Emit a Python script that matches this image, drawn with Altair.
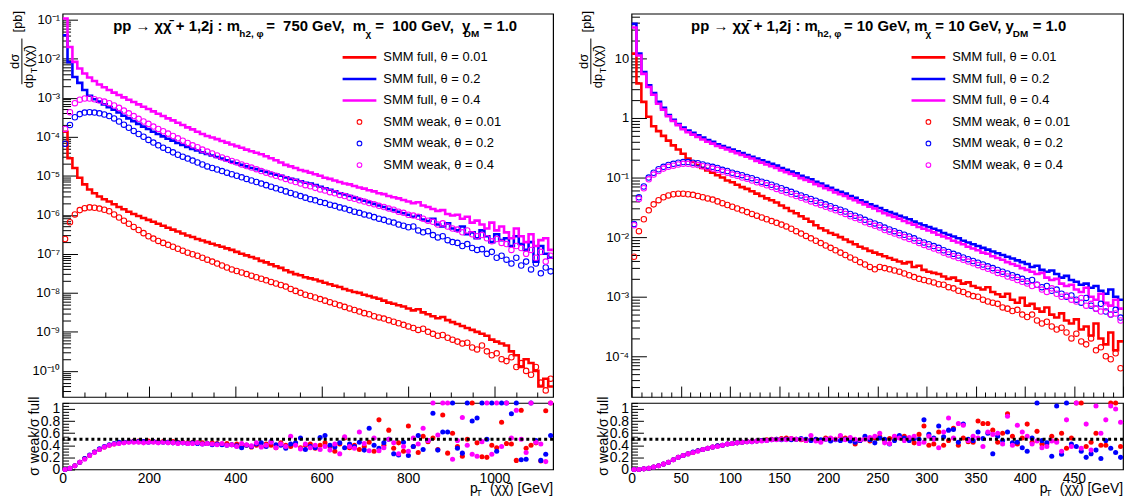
import altair as alt
import pandas as pd
import math

# ------------------------------------------------------------------
# Data: log10(dσ/dpT [pb]) per pT bin (100 bins per panel)
# ------------------------------------------------------------------
NB = 100
L_XMAX = 1136.0
R_XMAX = 500.0
THETAS = ["0.01", "0.2", "0.4"]
COLORS = ["#ff0000", "#0000ff", "#ff00ff"]

# ---------------- left panel: m_h2 = 750 GeV, m_chi = 100 GeV ----------------
L_FULL_001 = [-3.87, -4.55, -4.80, -5.05, -5.22, -5.35, -5.45, -5.53, -5.60, -5.66,
              -5.73, -5.80, -5.86, -5.92, -5.98, -6.03, -6.08, -6.13, -6.18, -6.23,
              -6.28, -6.33, -6.38, -6.43, -6.48, -6.53, -6.57, -6.62, -6.66, -6.70,
              -6.74, -6.78, -6.82, -6.86, -6.90, -6.95, -7.00, -7.04, -7.08, -7.12,
              -7.18, -7.22, -7.27, -7.32, -7.36, -7.42, -7.47, -7.52, -7.55, -7.60,
              -7.63, -7.66, -7.70, -7.74, -7.78, -7.82, -7.85, -7.90, -7.94, -7.98,
              -8.00, -8.05, -8.08, -8.12, -8.15, -8.20, -8.25, -8.28, -8.32, -8.35,
              -8.40, -8.45, -8.42, -8.50, -8.55, -8.60, -8.65, -8.62, -8.70, -8.75,
              -8.80, -8.85, -8.90, -8.95, -9.00, -9.05, -9.10, -9.20, -9.25, -9.30,
              -9.35, -9.50, -9.60, -9.90, -9.70, -9.80, -10.00, -10.40, -10.20, -10.40]
L_FULL_02 = [-1.40, -2.09, -2.47, -2.62, -2.80, -2.95, -3.04, -3.10, -3.17, -3.24,
             -3.31, -3.38, -3.46, -3.53, -3.60, -3.67, -3.74, -3.80, -3.87, -3.93,
             -3.99, -4.05, -4.10, -4.16, -4.21, -4.26, -4.31, -4.35, -4.40, -4.44,
             -4.48, -4.52, -4.56, -4.60, -4.64, -4.68, -4.72, -4.76, -4.80, -4.83,
             -4.87, -4.90, -4.94, -4.97, -5.00, -5.04, -5.08, -5.10, -5.14, -5.18,
             -5.20, -5.24, -5.28, -5.32, -5.36, -5.40, -5.45, -5.48, -5.52, -5.56,
             -5.60, -5.64, -5.68, -5.72, -5.76, -5.80, -5.85, -5.88, -5.92, -5.96,
             -6.00, -6.05, -6.02, -6.12, -6.16, -6.10, -6.25, -6.30, -6.22, -6.35,
             -6.40, -6.30, -6.50, -6.45, -6.60, -6.40, -6.55, -6.70, -6.50, -6.65,
             -6.60, -6.80, -6.55, -6.75, -6.90, -6.70, -7.20, -6.80, -7.00, -7.10]
L_FULL_04 = [-0.97, -1.70, -2.08, -2.25, -2.38, -2.48, -2.57, -2.66, -2.73, -2.80,
             -2.87, -2.93, -2.99, -3.05, -3.11, -3.17, -3.23, -3.29, -3.35, -3.41,
             -3.47, -3.53, -3.58, -3.64, -3.70, -3.76, -3.81, -3.87, -3.93, -3.98,
             -4.02, -4.06, -4.11, -4.15, -4.20, -4.24, -4.28, -4.33, -4.37, -4.41,
             -4.45, -4.50, -4.55, -4.60, -4.66, -4.72, -4.76, -4.80, -4.85, -4.88,
             -4.92, -4.96, -5.00, -5.05, -5.08, -5.12, -5.16, -5.20, -5.22, -5.26,
             -5.30, -5.33, -5.37, -5.40, -5.45, -5.47, -5.52, -5.55, -5.58, -5.62,
             -5.66, -5.70, -5.68, -5.76, -5.80, -5.85, -5.90, -5.88, -5.98, -6.02,
             -6.00, -6.10, -6.05, -6.20, -6.15, -6.25, -6.35, -6.20, -6.40, -6.30,
             -6.45, -6.60, -6.35, -6.55, -6.70, -6.50, -6.80, -6.65, -6.60, -6.90]
L_WEAK_001 = [-6.62, -6.19, -5.99, -5.88, -5.83, -5.81, -5.82, -5.84, -5.87, -5.91,
              -5.99, -6.07, -6.15, -6.23, -6.31, -6.39, -6.47, -6.55, -6.61, -6.67,
              -6.72, -6.77, -6.82, -6.87, -6.92, -6.97, -7.01, -7.05, -7.10, -7.15,
              -7.20, -7.25, -7.30, -7.35, -7.40, -7.44, -7.48, -7.52, -7.56, -7.60,
              -7.64, -7.68, -7.72, -7.76, -7.80, -7.84, -7.90, -7.95, -8.00, -8.05,
              -8.08, -8.12, -8.16, -8.20, -8.24, -8.28, -8.32, -8.36, -8.40, -8.44,
              -8.48, -8.52, -8.55, -8.60, -8.63, -8.66, -8.70, -8.74, -8.78, -8.82,
              -8.86, -8.90, -8.95, -8.92, -9.00, -9.05, -9.10, -9.08, -9.15, -9.20,
              -9.25, -9.30, -9.28, -9.40, -9.45, -9.35, -9.50, -9.60, -9.55, -9.70,
              -9.75, -9.65, -9.90, -9.80, -10.00, -10.10, -9.90, -10.30, -10.50, -10.20]
L_WEAK_02 = [-4.18, -3.70, -3.50, -3.42, -3.38, -3.37, -3.38, -3.40, -3.43, -3.47,
             -3.53, -3.61, -3.69, -3.77, -3.85, -3.93, -4.00, -4.08, -4.15, -4.22,
             -4.28, -4.34, -4.40, -4.46, -4.51, -4.56, -4.61, -4.66, -4.71, -4.76,
             -4.80, -4.84, -4.88, -4.92, -4.96, -5.00, -5.04, -5.08, -5.12, -5.16,
             -5.20, -5.24, -5.28, -5.32, -5.36, -5.40, -5.44, -5.48, -5.52, -5.56,
             -5.60, -5.63, -5.67, -5.70, -5.74, -5.77, -5.81, -5.84, -5.88, -5.92,
             -5.95, -5.99, -6.02, -6.06, -6.10, -6.13, -6.17, -6.20, -6.25, -6.28,
             -6.32, -6.30, -6.40, -6.45, -6.42, -6.52, -6.58, -6.55, -6.65, -6.70,
             -6.72, -6.80, -6.75, -6.85, -6.90, -6.88, -7.00, -6.95, -7.10, -7.05,
             -7.15, -7.25, -7.10, -7.30, -7.20, -7.40, -7.25, -7.50, -7.35, -7.45]
L_WEAK_04 = [-3.80, -3.37, -3.14, -3.05, -3.02, -3.02, -3.04, -3.07, -3.10, -3.14,
             -3.20, -3.26, -3.33, -3.40, -3.47, -3.54, -3.61, -3.67, -3.74, -3.80,
             -3.86, -3.92, -3.98, -4.04, -4.10, -4.16, -4.22, -4.27, -4.33, -4.38,
             -4.43, -4.48, -4.53, -4.57, -4.62, -4.66, -4.71, -4.75, -4.79, -4.83,
             -4.88, -4.92, -4.96, -5.00, -5.04, -5.08, -5.12, -5.16, -5.20, -5.24,
             -5.27, -5.31, -5.35, -5.38, -5.42, -5.45, -5.49, -5.52, -5.56, -5.59,
             -5.63, -5.66, -5.70, -5.73, -5.77, -5.80, -5.84, -5.87, -5.92, -5.95,
             -6.00, -6.02, -6.05, -6.10, -6.15, -6.18, -6.25, -6.22, -6.30, -6.35,
             -6.38, -6.45, -6.40, -6.50, -6.55, -6.52, -6.60, -6.68, -6.62, -6.72,
             -6.75, -6.90, -6.80, -6.85, -7.00, -6.90, -7.10, -6.95, -7.20, -7.05]
# ratio weak/full (values above the frame drawn at the top edge, 1.1)
L_RATIO_001 = [0.00, 0.02, 0.06, 0.12, 0.18, 0.23, 0.29, 0.33, 0.37, 0.40,
               0.42, 0.44, 0.45, 0.46, 0.47, 0.47, 0.46, 0.47, 0.46, 0.46,
               0.46, 0.45, 0.46, 0.45, 0.45, 0.44, 0.45, 0.44, 0.44, 0.43,
               0.44, 0.43, 0.42, 0.43, 0.41, 0.42, 0.38, 0.40, 0.37, 0.40,
               0.38, 0.42, 0.40, 0.36, 0.44, 0.40, 0.38, 0.42, 0.36, 0.40,
               0.42, 0.35, 0.40, 0.44, 0.38, 0.30, 0.42, 0.52, 0.36, 0.40,
               0.33, 0.38, 0.45, 0.30, 0.82, 0.40, 0.65, 0.35, 0.44, 0.30,
               0.72, 0.38, 0.28, 0.55, 0.46, 0.52, 0.33, 0.90, 0.27, 0.60,
               0.38, 0.22, 0.50, 1.10, 0.44, 0.21, 0.20, 0.40, 0.36, 0.78,
               0.43, 0.42, 0.15, 0.98, 0.35, 0.40, 0.44, 0.14, 0.97, 1.10]
L_RATIO_02 = [0.00, 0.02, 0.06, 0.12, 0.18, 0.24, 0.29, 0.34, 0.38, 0.41,
              0.43, 0.45, 0.45, 0.46, 0.46, 0.46, 0.46, 0.45, 0.46, 0.45,
              0.45, 0.45, 0.44, 0.44, 0.44, 0.43, 0.44, 0.43, 0.42, 0.43,
              0.41, 0.42, 0.41, 0.40, 0.41, 0.39, 0.36, 0.40, 0.38, 0.42,
              0.44, 0.38, 0.46, 0.41, 0.40, 0.35, 0.42, 0.44, 0.52, 0.33,
              0.38, 0.36, 0.53, 0.56, 0.40, 0.37, 0.44, 0.36, 0.42, 0.38,
              0.45, 0.32, 0.68, 0.40, 0.35, 0.44, 0.50, 0.26, 0.24, 0.45,
              0.23, 0.38, 0.56, 0.33, 0.48, 0.93, 0.32, 0.62, 0.62, 1.10,
              0.35, 0.27, 1.10, 0.80, 0.85, 1.10, 0.50, 1.10, 0.30, 1.10,
              1.10, 0.92, 1.10, 0.16, 0.17, 1.10, 0.48, 0.15, 0.25, 0.56]
L_RATIO_04 = [0.00, 0.02, 0.06, 0.12, 0.17, 0.23, 0.28, 0.33, 0.37, 0.40,
              0.42, 0.43, 0.44, 0.45, 0.45, 0.45, 0.44, 0.45, 0.45, 0.44,
              0.45, 0.44, 0.44, 0.43, 0.44, 0.43, 0.43, 0.44, 0.42, 0.43,
              0.42, 0.41, 0.43, 0.40, 0.41, 0.38, 0.43, 0.41, 0.39, 0.44,
              0.37, 0.40, 0.45, 0.36, 0.42, 0.38, 0.55, 0.40, 0.34, 0.42,
              0.36, 0.40, 0.33, 0.38, 0.32, 0.42, 0.26, 0.54, 0.38, 0.35,
              0.62, 0.43, 0.31, 0.52, 0.31, 0.36, 0.50, 0.44, 0.26, 0.38,
              0.30, 0.52, 0.42, 0.68, 0.48, 1.10, 0.57, 1.10, 1.10, 0.17,
              0.48, 0.86, 0.40, 0.25, 0.22, 0.46, 1.10, 0.25, 1.10, 0.38,
              1.10, 0.52, 0.98, 0.50, 0.28, 1.10, 0.45, 0.42, 0.13, 1.10]

# ---------------- right panel: m_h2 = 10 GeV, m_chi = 10 GeV ----------------
R_FULL_001 = [1.08, 0.58, 0.27, 0.02, -0.14, -0.22, -0.30, -0.38, -0.46, -0.53,
              -0.60, -0.68, -0.74, -0.79, -0.84, -0.88, -0.92, -0.96, -1.00, -1.05,
              -1.08, -1.12, -1.16, -1.19, -1.23, -1.27, -1.31, -1.35, -1.38, -1.42,
              -1.47, -1.51, -1.56, -1.60, -1.65, -1.69, -1.74, -1.80, -1.85, -1.89,
              -1.93, -1.96, -2.00, -2.04, -2.08, -2.12, -2.16, -2.19, -2.23, -2.26,
              -2.29, -2.32, -2.35, -2.38, -2.41, -2.44, -2.42, -2.50, -2.48, -2.55,
              -2.58, -2.60, -2.62, -2.66, -2.70, -2.68, -2.73, -2.78, -2.76, -2.82,
              -2.85, -2.88, -2.84, -2.92, -2.96, -3.00, -2.95, -3.05, -3.10, -3.02,
              -3.15, -3.12, -3.20, -3.25, -3.18, -3.30, -3.35, -3.28, -3.40, -3.45,
              -3.38, -3.55, -3.50, -3.65, -3.45, -3.70, -3.80, -3.60, -3.90, -3.75]
R_FULL_02 = [1.58, 1.08, 0.77, 0.55, 0.42, 0.27, 0.17, 0.05, -0.03, -0.10,
             -0.16, -0.21, -0.25, -0.29, -0.33, -0.37, -0.40, -0.44, -0.47, -0.50,
             -0.53, -0.56, -0.59, -0.62, -0.65, -0.68, -0.71, -0.74, -0.77, -0.80,
             -0.84, -0.87, -0.90, -0.93, -0.97, -1.00, -1.03, -1.07, -1.10, -1.14,
             -1.17, -1.21, -1.24, -1.27, -1.31, -1.34, -1.38, -1.41, -1.45, -1.48,
             -1.51, -1.55, -1.58, -1.61, -1.64, -1.67, -1.70, -1.74, -1.77, -1.80,
             -1.83, -1.86, -1.89, -1.93, -1.96, -1.99, -2.02, -2.06, -2.09, -2.12,
             -2.15, -2.18, -2.21, -2.24, -2.27, -2.30, -2.33, -2.36, -2.39, -2.42,
             -2.45, -2.50, -2.48, -2.55, -2.58, -2.56, -2.62, -2.68, -2.65, -2.72,
             -2.75, -2.80, -2.78, -2.85, -2.82, -2.90, -2.95, -2.88, -3.00, -3.05]
R_FULL_04 = [1.52, 1.05, 0.74, 0.52, 0.39, 0.24, 0.14, 0.03, -0.05, -0.12,
             -0.19, -0.24, -0.28, -0.32, -0.36, -0.40, -0.43, -0.47, -0.50, -0.53,
             -0.56, -0.59, -0.62, -0.65, -0.68, -0.72, -0.75, -0.78, -0.81, -0.84,
             -0.88, -0.91, -0.94, -0.97, -1.01, -1.04, -1.07, -1.11, -1.14, -1.18,
             -1.21, -1.25, -1.28, -1.31, -1.35, -1.38, -1.42, -1.45, -1.49, -1.52,
             -1.56, -1.60, -1.63, -1.66, -1.69, -1.73, -1.76, -1.79, -1.83, -1.86,
             -1.89, -1.92, -1.96, -1.99, -2.02, -2.06, -2.09, -2.12, -2.16, -2.19,
             -2.22, -2.26, -2.28, -2.32, -2.35, -2.38, -2.42, -2.45, -2.48, -2.52,
             -2.55, -2.58, -2.62, -2.60, -2.68, -2.72, -2.70, -2.78, -2.82, -2.80,
             -2.88, -2.92, -2.85, -3.00, -3.05, -2.95, -3.10, -3.15, -3.05, -3.20]
R_WEAK_001 = [-2.33, -1.90, -1.70, -1.55, -1.45, -1.38, -1.33, -1.30, -1.28, -1.27,
              -1.27, -1.28, -1.29, -1.31, -1.33, -1.35, -1.37, -1.40, -1.43, -1.46,
              -1.49, -1.52, -1.55, -1.58, -1.61, -1.64, -1.67, -1.70, -1.73, -1.76,
              -1.79, -1.82, -1.86, -1.90, -1.94, -1.98, -2.02, -2.06, -2.10, -2.14,
              -2.18, -2.22, -2.26, -2.30, -2.34, -2.38, -2.42, -2.46, -2.50, -2.54,
              -2.50, -2.52, -2.54, -2.56, -2.58, -2.61, -2.64, -2.67, -2.70, -2.72,
              -2.74, -2.76, -2.79, -2.80, -2.84, -2.86, -2.90, -2.92, -2.96, -2.99,
              -3.00, -3.05, -3.08, -3.10, -3.12, -3.18, -3.20, -3.24, -3.22, -3.30,
              -3.34, -3.30, -3.40, -3.45, -3.42, -3.50, -3.55, -3.52, -3.60, -3.70,
              -3.62, -3.75, -3.80, -3.70, -3.90, -3.85, -4.00, -4.05, -3.95, -4.20]
R_WEAK_02 = [-1.78, -1.33, -1.15, -1.00, -0.92, -0.86, -0.82, -0.79, -0.77, -0.75,
             -0.74, -0.74, -0.75, -0.76, -0.78, -0.80, -0.82, -0.84, -0.87, -0.89,
             -0.92, -0.94, -0.96, -0.99, -1.01, -1.04, -1.07, -1.09, -1.12, -1.15,
             -1.18, -1.21, -1.24, -1.27, -1.30, -1.33, -1.36, -1.39, -1.42, -1.45,
             -1.48, -1.51, -1.54, -1.57, -1.61, -1.64, -1.67, -1.71, -1.74, -1.77,
             -1.80, -1.84, -1.87, -1.90, -1.93, -1.96, -1.99, -2.02, -2.06, -2.09,
             -2.12, -2.15, -2.18, -2.22, -2.25, -2.28, -2.31, -2.34, -2.37, -2.40,
             -2.43, -2.46, -2.49, -2.52, -2.55, -2.58, -2.61, -2.64, -2.67, -2.70,
             -2.74, -2.72, -2.80, -2.84, -2.82, -2.90, -2.88, -2.95, -3.00, -2.98,
             -3.05, -3.10, -3.02, -3.15, -3.20, -3.12, -3.25, -3.30, -3.22, -3.35]
R_WEAK_04 = [-1.80, -1.36, -1.18, -1.03, -0.95, -0.89, -0.85, -0.82, -0.80, -0.78,
             -0.77, -0.77, -0.78, -0.79, -0.81, -0.83, -0.85, -0.87, -0.90, -0.92,
             -0.95, -0.97, -1.00, -1.02, -1.05, -1.08, -1.10, -1.13, -1.16, -1.19,
             -1.22, -1.25, -1.28, -1.31, -1.34, -1.37, -1.40, -1.43, -1.46, -1.49,
             -1.52, -1.55, -1.58, -1.61, -1.65, -1.68, -1.71, -1.75, -1.78, -1.81,
             -1.84, -1.88, -1.91, -1.94, -1.97, -2.00, -2.03, -2.06, -2.10, -2.13,
             -2.16, -2.19, -2.22, -2.26, -2.29, -2.32, -2.35, -2.38, -2.41, -2.44,
             -2.47, -2.50, -2.53, -2.56, -2.60, -2.62, -2.66, -2.68, -2.72, -2.75,
             -2.78, -2.82, -2.80, -2.88, -2.92, -2.86, -2.95, -3.00, -2.98, -3.05,
             -3.08, -3.02, -3.15, -3.12, -3.20, -3.25, -3.18, -3.30, -3.28, -3.40]
R_RATIO_001 = [0.00, 0.00, 0.01, 0.02, 0.04, 0.06, 0.09, 0.12, 0.16, 0.20,
               0.23, 0.26, 0.28, 0.31, 0.33, 0.35, 0.37, 0.39, 0.40, 0.42,
               0.43, 0.44, 0.45, 0.46, 0.47, 0.47, 0.48, 0.49, 0.50, 0.50,
               0.51, 0.52, 0.51, 0.50, 0.49, 0.48, 0.49, 0.50, 0.47, 0.52,
               0.51, 0.50, 0.55, 0.52, 0.50, 0.42, 0.48, 0.51, 0.47, 0.52,
               0.54, 0.48, 0.51, 0.54, 0.53, 0.55, 0.50, 0.44, 0.58, 0.72,
               0.40, 0.42, 0.62, 0.40, 0.48, 0.68, 0.40, 0.52, 0.46, 0.45,
               0.80, 0.76, 0.76, 0.65, 0.45, 0.60, 0.92, 0.55, 0.42, 0.52,
               0.75, 0.45, 0.63, 0.42, 0.42, 0.55, 0.48, 0.60, 0.35, 0.52,
               1.10, 1.10, 0.38, 0.45, 0.60, 0.40, 0.40, 1.10, 1.10, 0.38]
R_RATIO_02 = [0.00, 0.00, 0.01, 0.02, 0.04, 0.06, 0.09, 0.12, 0.16, 0.20,
              0.23, 0.26, 0.29, 0.31, 0.33, 0.35, 0.37, 0.39, 0.40, 0.42,
              0.43, 0.44, 0.45, 0.46, 0.46, 0.47, 0.48, 0.48, 0.49, 0.50,
              0.49, 0.50, 0.49, 0.50, 0.51, 0.50, 0.48, 0.50, 0.49, 0.50,
              0.47, 0.49, 0.48, 0.50, 0.47, 0.45, 0.48, 0.55, 0.49, 0.44,
              0.52, 0.50, 0.42, 0.48, 0.56, 0.52, 0.48, 0.51, 0.50, 0.82,
              0.58, 0.52, 0.72, 0.54, 0.65, 0.66, 0.45, 0.75, 0.50, 0.48,
              0.62, 0.51, 0.60, 0.26, 0.55, 0.48, 0.62, 0.44, 0.45, 0.36,
              0.30, 0.52, 1.10, 0.48, 0.44, 0.22, 1.05, 0.25, 1.10, 0.42,
              0.38, 0.30, 0.20, 0.26, 0.32, 0.18, 0.48, 0.35, 0.28, 0.20]
R_RATIO_04 = [0.00, 0.00, 0.01, 0.02, 0.04, 0.06, 0.09, 0.12, 0.16, 0.20,
              0.23, 0.26, 0.28, 0.30, 0.33, 0.35, 0.37, 0.38, 0.40, 0.42,
              0.43, 0.44, 0.45, 0.46, 0.46, 0.47, 0.47, 0.48, 0.49, 0.49,
              0.50, 0.49, 0.51, 0.50, 0.50, 0.48, 0.56, 0.47, 0.45, 0.50,
              0.52, 0.50, 0.56, 0.49, 0.53, 0.50, 0.49, 0.50, 0.53, 0.55,
              0.60, 0.44, 0.43, 0.55, 0.52, 0.48, 0.53, 0.55, 0.43, 0.45,
              0.55, 0.50, 0.36, 0.62, 0.85, 0.52, 0.76, 0.73, 0.48, 0.55,
              0.52, 0.38, 0.62, 0.58, 0.60, 0.42, 0.88, 0.40, 0.73, 0.62,
              0.55, 0.42, 0.47, 0.36, 0.38, 0.47, 0.45, 0.30, 0.82, 0.38,
              1.10, 0.35, 0.75, 0.32, 1.05, 0.60, 0.82, 1.05, 1.00, 0.78]

# text
CHIS = "χχ\u0304"
NB_SP = "\u00a0"
LEFT_TITLE = ["pp → " + CHIS + " + 1,2j : m", "h2, φ", "=" + NB_SP + " 750 GeV," + NB_SP + " m", "χ",
              "=" + NB_SP + " 100 GeV," + NB_SP + " y", "DM", "= 1.0"]
RIGHT_TITLE = ["pp → " + CHIS + " + 1,2j : m", "h2, φ", "= 10 GeV, m", "χ", "= 10 GeV, y", "DM", "= 1.0"]
LEGEND_LINES = ["SMM full, θ = 0.01", "SMM full, θ = 0.2", "SMM full, θ = 0.4"]
LEGEND_PTS = ["SMM weak, θ = 0.01", "SMM weak, θ = 0.2", "SMM weak, θ = 0.4"]

FONT = "Liberation Sans"
SUP = str.maketrans("-0123456789", "⁻⁰¹²³⁴⁵⁶⁷⁸⁹")

# layout (pixels)
W_L, W_R = 494, 495
H_MAIN, H_RAT = 386, 67


def dec_label(e):
    if e == 0:
        return "1"
    if e == 1:
        return "10"
    return "10" + str(e).translate(SUP)


def hist_df(series, xmax):
    bw = xmax / NB
    rows = []
    for th, vals in zip(THETAS, series):
        for i, lv in enumerate(vals):
            rows.append({"pt": i * bw, "val": 10 ** lv, "s": th})
        rows.append({"pt": NB * bw, "val": 10 ** vals[-1], "s": th})
    return pd.DataFrame(rows)


def pts_df(series, xmax, log=True):
    bw = xmax / NB
    rows = []
    for th, vals in zip(THETAS, series):
        for i, v in enumerate(vals):
            rows.append({"pt": (i + 0.5) * bw, "val": 10 ** v if log else v, "s": th})
    return pd.DataFrame(rows)


ONE = pd.DataFrame({"a": [0]})
COLOR = alt.Color("s:N", scale=alt.Scale(domain=THETAS, range=COLORS), legend=None)


def txt(s, x, y, size=13, bold=False, angle=0, align="left", baseline="alphabetic", color="black"):
    kw = dict(fontSize=size, align=align, baseline=baseline, font=FONT, color=color)
    if bold:
        kw["fontWeight"] = "bold"
    if angle:
        kw["angle"] = angle
    return alt.Chart(ONE).mark_text(**kw).encode(x=alt.value(x), y=alt.value(y), text=alt.value(s))


def tick_axis(orient, offset, values, size):
    return alt.Axis(orient=orient, offset=offset, values=values, labels=False, domain=False, grid=False,
                    title=None, ticks=True, tickColor="black", tickWidth=1, tickSize=size)


def main_panel(full, weak, xmax, ylog, W, title, title_x, xmajor, xminor):
    lo, hi = ylog
    xs = alt.Scale(domain=[0, xmax], nice=False, zero=False)
    ys = alt.Scale(type="log", domain=[10 ** lo, 10 ** hi], nice=False)
    exps = list(range(math.ceil(lo), math.floor(hi) + 1))
    labels = [dec_label(e) for e in exps]
    label_expr = "[" + ",".join("'%s'" % l for l in labels) + "][round(log(datum.value)/LN10) - (%d)]" % exps[0]
    y_major = [10.0 ** e for e in exps]
    y_minor = []
    for k in range(math.floor(lo), math.ceil(hi) + 1):
        for m in range(2, 10):
            v = m * 10.0 ** k
            if 10 ** lo <= v <= 10 ** hi:
                y_minor.append(v)
    x_major = [xmajor * i for i in range(int(xmax // xmajor) + 1)]
    x_minor = [xminor * i for i in range(int(xmax // xminor) + 1) if (xminor * i) % xmajor != 0]

    y_lab_axis = alt.Axis(orient="left", values=y_major, labelExpr=label_expr,
                          ticks=False, domain=False, grid=False, labelFontSize=13, labelPadding=3,
                          labelFont=FONT, title=None)

    lines = alt.Chart(hist_df(full, xmax)).mark_line(interpolate="step-after", strokeWidth=2.6, clip=True).encode(
        x=alt.X("pt:Q", scale=xs, axis=tick_axis("top", -H_MAIN, x_major, 11)),
        y=alt.Y("val:Q", scale=ys, axis=y_lab_axis),
        color=COLOR,
    )
    circles = alt.Chart(pts_df(weak, xmax)).mark_point(shape="circle", filled=False, size=30, strokeWidth=1.1, clip=True, opacity=1).encode(
        x=alt.X("pt:Q", scale=xs, axis=tick_axis("top", -H_MAIN, x_minor, 5)),
        y=alt.Y("val:Q", scale=ys, axis=tick_axis("right", -W, y_major, 15)),
        color=COLOR,
    )
    minor_y = alt.Chart(ONE).mark_point(opacity=0).encode(
        x=alt.X(datum=xmax / 2, scale=xs, axis=None),
        y=alt.Y(datum=y_major[len(y_major) // 2], scale=ys, axis=tick_axis("right", -W, y_minor, 8)),
    )

    ann = []
    # title pieces (main / subscript alternating)
    for i, (s, x) in enumerate(zip(title, title_x)):
        if i % 2 == 0:
            ann.append(txt(s, x, 17, size=15, bold=True))
        else:
            ann.append(txt(s, x, 23, size=10, bold=True))
    # legend
    for j, (lab, c) in enumerate(zip(LEGEND_LINES, COLORS)):
        yy = 44 + 21.7 * j
        ann.append(alt.Chart(ONE).mark_rule(color=c, strokeWidth=2.6).encode(
            x=alt.value(282), x2=alt.value(316), y=alt.value(yy)))
        ann.append(txt(lab, 323, yy, baseline="middle"))
    for j, (lab, c) in enumerate(zip(LEGEND_PTS, COLORS)):
        yy = 109 + 21.7 * j
        ann.append(alt.Chart(ONE).mark_point(shape="circle", filled=False, size=22, strokeWidth=1.1, color=c, opacity=1).encode(
            x=alt.value(299), y=alt.value(yy)))
        ann.append(txt(lab, 323, yy, baseline="middle"))
    # y-axis title: [pb]  dσ / dp_T(χχ̄)
    ann.append(txt("[pb]", -45, 8, angle=270, align="center", baseline="middle"))
    ann.append(txt("dσ", -48, 48, angle=270, align="center", baseline="middle"))
    ann.append(alt.Chart(ONE).mark_rule(color="black", strokeWidth=1).encode(
        x=alt.value(-41), y=alt.value(25), y2=alt.value(71)))
    ann.append(txt("dp", -34, 75, angle=270, align="left", baseline="middle"))
    ann.append(txt("T", -29, 60, size=9, angle=270, align="left", baseline="middle"))
    ann.append(txt("(" + CHIS + ")", -34, 54, angle=270, align="left", baseline="middle"))

    return alt.layer(lines, circles, minor_y, *ann).resolve_axis(x="independent", y="independent").properties(
        width=W, height=H_MAIN)


def ratio_panel(ratios, xmax, W, xlabels):
    xs = alt.Scale(domain=[0, xmax], nice=False, zero=False)
    ys = alt.Scale(domain=[0, 1.1], nice=False, zero=False)
    pts = alt.Chart(pts_df(ratios, xmax, log=False)).mark_circle(size=26, opacity=1).encode(
        x=alt.X("pt:Q", scale=xs, axis=alt.Axis(orient="bottom", values=xlabels, ticks=False, domain=False,
                                                grid=False, labelFlush=False, labelFontSize=14, labelPadding=2,
                                                labelFont=FONT, format="d", title=None)),
        y=alt.Y("val:Q", scale=ys, axis=alt.Axis(orient="left", values=[0, 0.2, 0.4, 0.6, 0.8, 1.0], format="~g",
                                                 ticks=False, domain=False, grid=False, labelFontSize=14,
                                                 labelOverlap=False, labelPadding=3, labelFont=FONT, title=None)),
        color=COLOR,
    )
    rule = alt.Chart(ONE).mark_rule(color="black", strokeWidth=3, strokeDash=[3, 3]).encode(
        y=alt.Y(datum=0.5, scale=ys, axis=tick_axis("right", -W, [0, 0.2, 0.4, 0.6, 0.8, 1.0], 12)),
    )
    minor_y = alt.Chart(ONE).mark_point(opacity=0).encode(
        x=alt.X(datum=xmax / 2, scale=xs, axis=None),
        y=alt.Y(datum=0.5, scale=ys, axis=tick_axis("right", -W, [round(0.05 * i, 2) for i in range(23) if i % 4 != 0], 6)),
    )
    ann = [
        txt("σ weak/σ full", -28, H_RAT / 2, size=14, angle=270, align="center", baseline="middle"),
        txt("(" + CHIS + ") [GeV]", W, 91, size=14, align="right"),
        txt("T", W - 72, 94, size=9, align="right"),
        txt("p", W - 76, 91, size=14, align="right"),
    ]
    return alt.layer(pts, rule, minor_y, *ann).resolve_axis(x="independent", y="independent").properties(
        width=W, height=H_RAT)


left_main = main_panel([L_FULL_001, L_FULL_02, L_FULL_04], [L_WEAK_001, L_WEAK_02, L_WEAK_04],
                       L_XMAX, (-10.669, -0.847), W_L, LEFT_TITLE,
                       [51, 178, 205, 305, 315, 404, 424], 200, 50)
right_main = main_panel([R_FULL_001, R_FULL_02, R_FULL_04], [R_WEAK_001, R_WEAK_02, R_WEAK_04],
                        R_XMAX, (-4.683, 1.75), W_R, RIGHT_TITLE,
                        [60, 187, 214, 296, 306, 384, 404], 50, 10)
left_ratio = ratio_panel([L_RATIO_001, L_RATIO_02, L_RATIO_04], L_XMAX, W_L, [0, 200, 400, 600, 800, 1000])
right_ratio = ratio_panel([R_RATIO_001, R_RATIO_02, R_RATIO_04], R_XMAX, W_R, [0, 50, 100, 150, 200, 250, 300, 350, 400, 450])

left = alt.vconcat(left_main, left_ratio, spacing=6, bounds="flush")
right = alt.vconcat(right_main, right_ratio, spacing=6, bounds="flush")

chart = alt.hconcat(left, right, spacing=21).properties(
    padding={"left": 0, "top": 0, "right": 0, "bottom": 0}
).configure(font=FONT).configure_view(stroke="black", strokeWidth=1.2).configure_axis(
    grid=False, labelColor="black"
)

chart.save("out.html", embed_options={"renderer": "svg", "actions": False})
